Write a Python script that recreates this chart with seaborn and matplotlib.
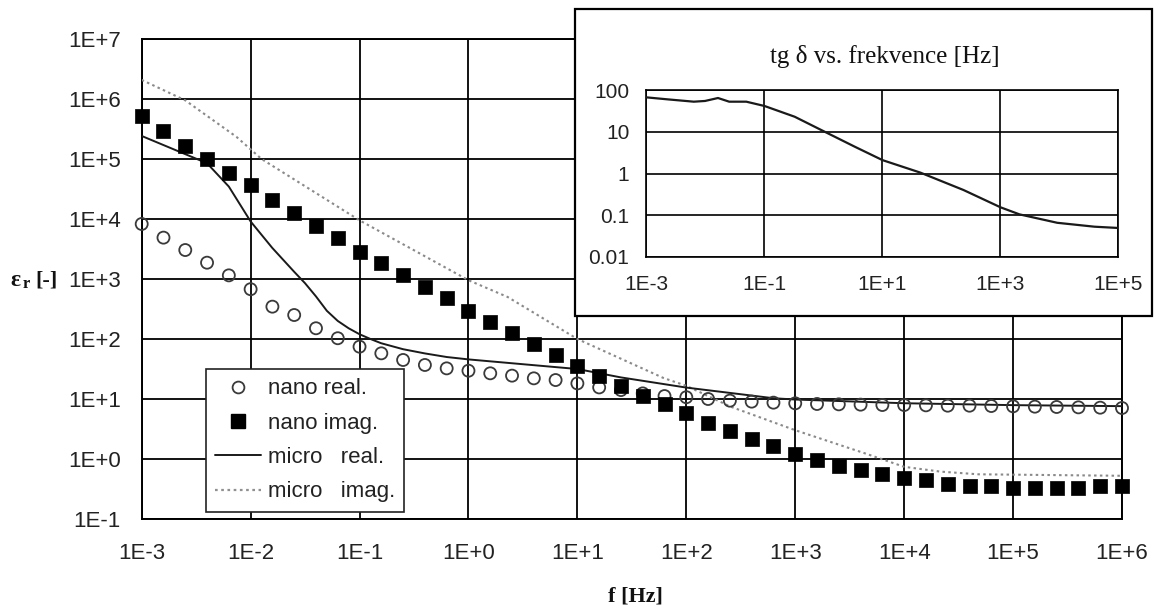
import numpy as np
import matplotlib
matplotlib.use("Agg")
import matplotlib.pyplot as plt
from matplotlib.patches import Rectangle
from matplotlib.lines import Line2D
from matplotlib.ticker import FixedLocator, NullLocator
import seaborn as sns

# ---------------- data ----------------
main_xticks = ["1E-3", "1E-2", "1E-1", "1E+0", "1E+1", "1E+2", "1E+3", "1E+4", "1E+5", "1E+6"]
main_xtick_vals = [1e-3, 1e-2, 1e-1, 1e0, 1e1, 1e2, 1e3, 1e4, 1e5, 1e6]
main_yticks = ["1E-1", "1E+0", "1E+1", "1E+2", "1E+3", "1E+4", "1E+5", "1E+6", "1E+7"]
main_ytick_vals = [1e-1, 1e0, 1e1, 1e2, 1e3, 1e4, 1e5, 1e6, 1e7]

# nano samples: 5 per decade from 1E-3 to 1E+6
nano_f = np.logspace(-3, 6, 46)
nano_real = [8260, 4890, 3040, 1870, 1150, 676, 346, 251, 151, 103,
             74.5, 57.7, 44.7, 36.9, 32.4, 29.6, 26.8, 24.5, 22.1, 20.7,
             18.2, 15.6, 14.1, 12.4, 11.2, 10.7, 10.0, 9.38, 9.04, 8.69,
             8.47, 8.26, 8.15, 8.05, 7.94, 7.94, 7.84, 7.74, 7.74, 7.64,
             7.55, 7.45, 7.36, 7.26, 7.17, 7.08]
nano_imag = [5.2e5, 2.9e5, 1.67e5, 9.9e4, 5.9e4, 3.7e4, 2.07e4, 1.28e4, 7.6e3, 4.9e3,
             2.86e3, 1.82e3, 1.17e3, 736, 476, 297, 190, 124, 81.5, 54.1,
             35.5, 24.2, 16.5, 11.4, 8.15, 5.77, 3.93, 2.93, 2.18, 1.65,
             1.2, 0.96, 0.774, 0.656, 0.562, 0.476, 0.447, 0.383, 0.355, 0.355,
             0.324, 0.324, 0.324, 0.324, 0.355, 0.355]

micro_real_f = [1e-3, 3.98e-3, 6.31e-3, 1e-2, 1.58e-2, 2.51e-2, 3.16e-2, 3.98e-2, 5.01e-2,
                6.31e-2, 7.94e-2, 0.1, 0.126, 0.158, 0.251, 0.398, 0.631, 1.0, 3.16,
                10.0, 25.1, 100.0, 631.0, 1e3, 1e4, 1e5, 1e6]
micro_real = [2.42e5, 8.5e4, 3.47e4, 9.1e3, 3.3e3, 1.32e3, 850, 513, 295,
              200, 151, 120, 100, 85, 67.6, 57.5, 50.1, 45.7, 38.0,
              31.6, 22.9, 15.5, 10.3, 9.8, 8.5, 7.9, 7.6]

micro_imag_f = [1e-3, 2.51e-3, 7.41e-3, 1.26e-2, 0.1, 1.0, 2.29, 10.0, 61.7, 100.0,
                257.0, 1e3, 4.27e3, 1e4, 2.14e4, 4.79e4, 1e6]
micro_imag = [2.08e6, 9.5e5, 2.34e5, 1.0e5, 9.5e3, 955, 501, 100, 22.4, 16.6,
              7.41, 3.02, 1.26, 0.741, 0.617, 0.556, 0.525]

inset_xticks = ["1E-3", "1E-1", "1E+1", "1E+3", "1E+5"]
inset_xtick_vals = [1e-3, 1e-1, 1e1, 1e3, 1e5]
inset_yticks = ["0.01", "0.1", "1", "10", "100"]
inset_ytick_vals = [0.01, 0.1, 1, 10, 100]
tgd_f = [1e-3, 2.29e-3, 6.46e-3, 1e-2, 1.66e-2, 2.57e-2, 5.01e-2, 0.102, 0.331, 1.07,
         3.47, 10.2, 44.7, 240.0, 1.02e3, 2.14e3, 9.33e3, 3.98e4, 1e5]
tgd = [66.8, 59.8, 52.5, 54.6, 64.3, 52.5, 52.5, 41.4, 22.9, 10.0,
       4.37, 2.09, 1.05, 0.403, 0.155, 0.105, 0.066, 0.0532, 0.0496]

legend_labels = ["nano real.", "nano imag.", "micro   real.", "micro   imag."]

# ---------------- style ----------------
sns.set_style("white")
plt.rcParams["font.family"] = ["Liberation Sans", "DejaVu Sans"]
plt.rcParams["mathtext.fontset"] = "stix"

W, H = 1156, 610
fig = plt.figure(figsize=(W / 100, H / 100), dpi=100)
fig.patch.set_facecolor("white")

def fbox(x0, y0, x1, y1):
    return [x0 / W, 1 - y1 / H, (x1 - x0) / W, (y1 - y0) / H]

tick_color = "#222222"

# ---------------- main axes ----------------
ax = fig.add_axes(fbox(141.7, 39, 1122, 519))
ax.set_xscale("log")
ax.set_yscale("log")

sns.lineplot(ax=ax, x=micro_imag_f, y=micro_imag, sort=False, estimator=None,
             color="#8a8a8a", linestyle=(0, (1.2, 1.6)), linewidth=1.5, zorder=3)
sns.lineplot(ax=ax, x=micro_real_f, y=micro_real, sort=False, estimator=None,
             color="#1a1a1a", linewidth=1.4, zorder=3)
sns.scatterplot(ax=ax, x=nano_f, y=nano_real, marker="o", s=75,
                facecolors="none", edgecolor="#3a3a3a", linewidth=1.3, zorder=4,
                clip_on=False)
sns.scatterplot(ax=ax, x=nano_f, y=nano_imag, marker="s", s=95,
                color="black", edgecolor="black", linewidth=0.5, zorder=5,
                clip_on=False)

ax.set_xlim(1e-3, 1e6)
ax.set_ylim(1e-1, 1e7)
ax.xaxis.set_major_locator(FixedLocator(main_xtick_vals))
ax.yaxis.set_major_locator(FixedLocator(main_ytick_vals))
ax.xaxis.set_minor_locator(NullLocator())
ax.yaxis.set_minor_locator(NullLocator())
ax.set_xticklabels(main_xticks)
ax.set_yticklabels(main_yticks)
ax.tick_params(axis="both", which="major", direction="out", length=6, width=1.3,
               color="black", labelsize=16, labelcolor=tick_color)
ax.tick_params(axis="x", pad=11)
ax.tick_params(axis="y", pad=9)
ax.grid(True, which="major", color="black", linewidth=1.3)
for sp in ax.spines.values():
    sp.set_visible(True)
    sp.set_color("black")
    sp.set_linewidth(1.4)
ax.set_xlabel("")
ax.set_ylabel("")

handles = [
    Line2D([], [], marker="o", linestyle="none", markersize=8.5, markerfacecolor="none",
           markeredgecolor="#3a3a3a", markeredgewidth=1.3),
    Line2D([], [], marker="s", linestyle="none", markersize=9.5, color="black"),
    Line2D([], [], color="#1a1a1a", linewidth=1.4),
    Line2D([], [], color="#909090", linestyle=(0, (1.2, 1.6)), linewidth=1.6),
]
leg = ax.legend(handles, legend_labels, loc="upper left",
                bbox_to_anchor=((206 - 141.7) / 980.3, (519 - 369) / 480),
                borderaxespad=0, frameon=True, fancybox=False, framealpha=1,
                edgecolor="#222222", fontsize=16, handlelength=2.05,
                handletextpad=0.3, borderpad=0.42, labelspacing=0.6)
leg.get_frame().set_linewidth(1.2)
for t in leg.get_texts():
    t.set_color(tick_color)
leg.set_zorder(10)

# axis labels
ylab_y = 1 - 280 / H
fig.text(10 / W, ylab_y, "\u03b5", ha="left", va="center",
         fontsize=17, fontweight="bold", family="Liberation Serif", color="#111111")
fig.text(23 / W, ylab_y - 4 / H, "r", ha="left", va="center",
         fontsize=12, fontweight="bold", family="Liberation Serif", color="#111111")
fig.text(35 / W, ylab_y, "[-]", ha="left", va="center",
         fontsize=16, fontweight="bold", family="Liberation Serif", color="#111111")
fig.text(635 / W, 1 - 597 / H, "f [Hz]", ha="center", va="center",
         fontsize=16, fontweight="bold", family="Liberation Serif", color="#111111")

# ---------------- inset ----------------
box = Rectangle((575 / W, 1 - 316 / H), 577 / W, 307 / H, transform=fig.transFigure,
                facecolor="white", edgecolor="black", linewidth=1.6, zorder=5)
fig.add_artist(box)

iax = fig.add_axes(fbox(646, 90, 1118, 257))
iax.set_zorder(6)
iax.set_xscale("log")
iax.set_yscale("log")
sns.lineplot(ax=iax, x=tgd_f, y=tgd, sort=False, estimator=None,
             color="#1a1a1a", linewidth=1.6, zorder=3)
iax.set_xlim(1e-3, 1e5)
iax.set_ylim(1e-2, 1e2)
iax.xaxis.set_major_locator(FixedLocator(inset_xtick_vals))
iax.yaxis.set_major_locator(FixedLocator(inset_ytick_vals))
iax.xaxis.set_minor_locator(NullLocator())
iax.yaxis.set_minor_locator(NullLocator())
iax.set_xticklabels(inset_xticks)
iax.set_yticklabels(inset_yticks)
iax.tick_params(axis="both", which="major", direction="out", length=5, width=1.2,
                color="black", labelsize=15, labelcolor=tick_color)
iax.tick_params(axis="x", pad=8)
iax.tick_params(axis="y", pad=7)
iax.grid(True, which="major", color="black", linewidth=1.2)
for sp in iax.spines.values():
    sp.set_visible(True)
    sp.set_color("black")
    sp.set_linewidth(1.2)
iax.set_xlabel("")
iax.set_ylabel("")
iax.set_facecolor("white")

fig.text(885 / W, 1 - 57 / H, "tg \u03b4 vs. frekvence [Hz]", ha="center", va="center",
         fontsize=18, family="Liberation Serif", color="#111111", zorder=7)

fig.savefig("out.png", dpi=100, facecolor="white")
